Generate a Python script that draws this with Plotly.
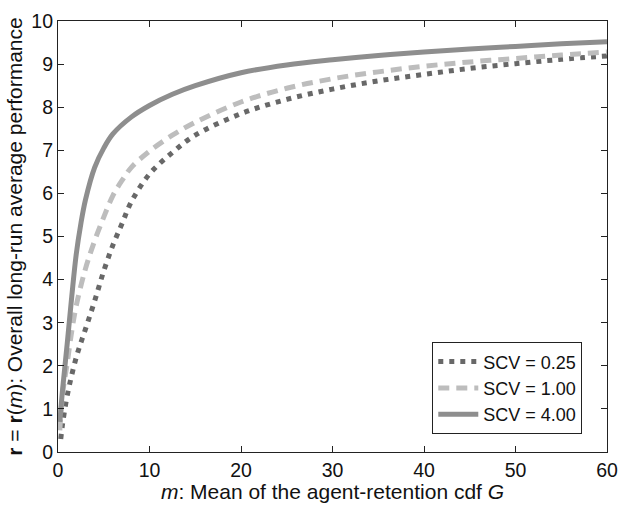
import plotly.graph_objects as go

# Mean of the agent-retention cdf G, and r(m) for three SCV values
m_025 = [0.3, 0.5, 1, 2, 3, 4, 5, 6, 7, 8, 10, 12.5, 15, 20, 25, 30, 35, 40, 45, 50, 55, 60]
r_025 = [0.3, 0.65, 1.3, 2.2, 2.85, 3.5, 4.2, 4.8, 5.3, 5.8, 6.45, 6.95, 7.35, 7.85, 8.18, 8.42, 8.61, 8.76, 8.9, 9.01, 9.11, 9.19]

m_100 = [0.2, 0.5, 1, 1.5, 2, 3, 4, 5, 6, 7, 8, 10, 12.5, 15, 20, 25, 30, 35, 40, 45, 50, 55, 60]
r_100 = [0.5, 1.35, 2.05, 2.8, 3.4, 4.25, 4.9, 5.45, 5.95, 6.3, 6.6, 6.98, 7.35, 7.65, 8.12, 8.44, 8.66, 8.82, 8.95, 9.05, 9.13, 9.21, 9.28]

m_400 = [0.2, 0.5, 1, 1.5, 2, 2.5, 3, 4, 5, 6, 8, 10, 12.5, 15, 20, 25, 30, 35, 40, 45, 50, 55, 60]
r_400 = [0.7, 1.45, 2.5, 3.6, 4.6, 5.3, 5.85, 6.6, 7.05, 7.38, 7.77, 8.04, 8.3, 8.5, 8.8, 8.98, 9.1, 9.2, 9.28, 9.35, 9.41, 9.47, 9.52]

series_names = ["SCV = 0.25", "SCV = 1.00", "SCV = 4.00"]

FONT = "Liberation Sans, Arial, sans-serif"
TICK_FS = 19.5
TITLE_FS = 21
LEGEND_FS = 18

fig = go.Figure()
fig.add_trace(go.Scatter(x=m_025, y=r_025, mode="lines", name=series_names[0],
                         line=dict(color="#686868", width=5, dash="5px,6px", shape="spline")))
fig.add_trace(go.Scatter(x=m_100, y=r_100, mode="lines", name=series_names[1],
                         line=dict(color="#bdbdbd", width=5, dash="11px,7px", shape="spline")))
fig.add_trace(go.Scatter(x=m_400, y=r_400, mode="lines", name=series_names[2],
                         line=dict(color="#8e8e8e", width=5, shape="spline")))

axis_common = dict(
    showgrid=False, zeroline=False, showline=True, linecolor="#222", linewidth=1.2,
    mirror="allticks", ticks="inside", ticklen=6, tickcolor="#222", tickwidth=1.2,
    tickfont=dict(family=FONT, size=TICK_FS, color="#111"),
    ticklabeloverflow="allow",
)

fig.update_layout(
    width=628, height=506,
    margin=dict(l=58, r=10, t=11, b=54),
    paper_bgcolor="white", plot_bgcolor="white",
    font=dict(family=FONT, size=TICK_FS, color="#111"),
    xaxis=dict(range=[0, 60], dtick=10, **axis_common,
               title=dict(text="<i>m</i>: Mean of the agent-retention cdf <i>G</i>",
                          font=dict(family=FONT, size=TITLE_FS), standoff=0)),
    yaxis=dict(range=[0, 10], dtick=1, **axis_common,
               title=dict(text="<b>r</b> = <b>r</b>(<i>m</i>): Overall long-run average performance",
                          font=dict(family=FONT, size=TITLE_FS), standoff=2)),
    legend=dict(x=0.955, y=0.041, xanchor="right", yanchor="bottom",
                bordercolor="#222", borderwidth=1, bgcolor="white",
                font=dict(family=FONT, size=LEGEND_FS), tracegroupgap=0,
                itemwidth=40),
    showlegend=True,
)

fig.write_html("out.html")
